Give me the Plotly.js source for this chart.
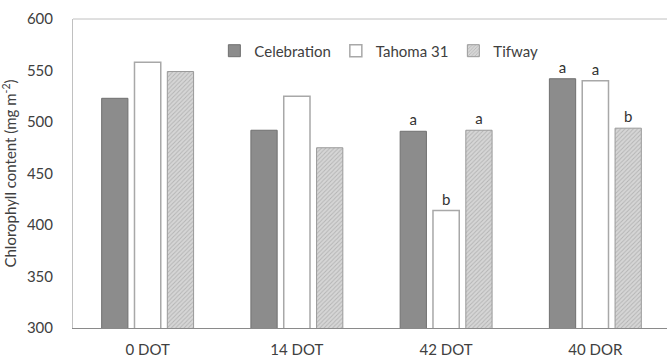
<!DOCTYPE html>
<html>
<head>
<meta charset="utf-8">
<script src="https://cdn.plot.ly/plotly-3.0.1.min.js"></script>
<style>
  html, body { margin: 0; padding: 0; background: #fff; }
  #chart { width: 667px; height: 357px; }
</style>
</head>
<body>
<div id="chart"></div>
<script>
// Sampling times
const categories = ['0 DOT', '14 DOT', '42 DOT', '40 DOR'];

// Chlorophyll content (mg m-2) per cultivar
const celebration = [523, 492, 491, 542];
const tahoma31    = [558, 525, 414, 540];
const tifway      = [549, 475, 492, 494];

// Mean separation letters shown above the bars
const celebrationLetters = ['', '', 'a', 'a'];
const tahoma31Letters    = ['', '', 'b', 'a'];
const tifwayLetters      = ['', '', 'a', 'b'];

const yTicks = [300, 350, 400, 450, 500, 550, 600];

const font = 'Lato, Open Sans, sans-serif';
const textFont = { family: font, size: 15, color: '#333333' };

const traces = [
  {
    type: 'bar', name: 'Celebration', x: categories, y: celebration,
    text: celebrationLetters, textposition: 'outside', textfont: textFont,
    cliponaxis: false, hoverinfo: 'skip',
    marker: { color: '#8c8c8c', line: { color: '#707070', width: 1 } }
  },
  {
    type: 'bar', name: 'Tahoma 31', x: categories, y: tahoma31,
    text: tahoma31Letters, textposition: 'outside', textfont: textFont,
    cliponaxis: false, hoverinfo: 'skip',
    marker: { color: '#ffffff', line: { color: '#a8a8a8', width: 1.5 } }
  },
  {
    type: 'bar', name: 'Tifway', x: categories, y: tifway,
    text: tifwayLetters, textposition: 'outside', textfont: textFont,
    cliponaxis: false, hoverinfo: 'skip',
    marker: {
      color: '#d2d2d2',
      line: { color: '#9a9a9a', width: 1 },
      pattern: { shape: '/', size: 3, solidity: 0.3, fgcolor: '#b4b4b4', bgcolor: '#d6d6d6', fillmode: 'replace' }
    }
  }
];

const layout = {
  width: 667, height: 357,
  margin: { l: 73, r: 0, t: 19, b: 29 },
  paper_bgcolor: '#ffffff', plot_bgcolor: '#ffffff',
  font: { family: font, size: 15, color: '#404040' },
  barmode: 'group', bargap: 0.34, bargroupgap: 0.2,
  showlegend: true,
  legend: {
    orientation: 'h', x: 0.238, xanchor: 'left', y: 0.95, yanchor: 'top',
    font: { family: font, size: 15, color: '#404040' },
    bgcolor: 'rgba(0,0,0,0)', traceorder: 'normal',
    itemclick: false, itemdoubleclick: false
  },
  xaxis: {
    type: 'category', range: [-0.5, 3.48],
    showline: true, linecolor: '#8a8a8a', linewidth: 1,
    ticks: 'outside', ticklen: 8, tickcolor: 'rgba(0,0,0,0)',
    showgrid: false, zeroline: false, fixedrange: true,
    tickfont: { family: font, size: 15, color: '#404040' }
  },
  yaxis: {
    range: [300, 600], tickvals: yTicks, ticktext: yTicks.map(String),
    showline: true, linecolor: '#c0c0c0', linewidth: 1,
    ticks: 'outside', ticklen: 16, tickcolor: 'rgba(0,0,0,0)',
    showgrid: false, zeroline: false, fixedrange: true,
    tickfont: { family: font, size: 15, color: '#404040' },
    title: { text: 'Chlorophyll content (mg m<sup>-2</sup>)', standoff: 8,
             font: { family: font, size: 15, color: '#404040' } }
  },
  shapes: [
    { type: 'line', xref: 'paper', yref: 'paper', x0: 0, x1: 1, y0: 1, y1: 1,
      line: { color: '#c0c0c0', width: 1 } }
  ]
};

Plotly.newPlot('chart', traces, layout, { displayModeBar: false, staticPlot: true });
</script>
</body>
</html>
